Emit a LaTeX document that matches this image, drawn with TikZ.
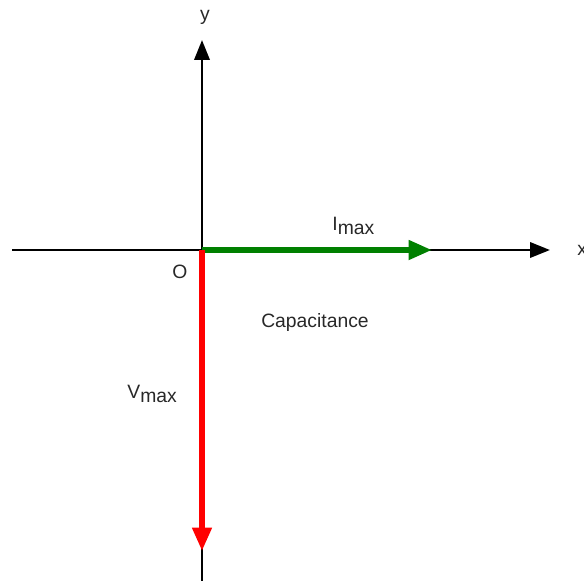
\documentclass[tikz,border=0pt]{standalone}
\usepackage{fontspec}
\setmainfont{Liberation Sans}
\usetikzlibrary{arrows.meta, positioning}
\definecolor{phasorgreen}{RGB}{0, 128, 0}
\definecolor{phasorred}{RGB}{255, 0, 0}
\definecolor{labelgray}{RGB}{40, 40, 40}

\begin{document}
\begin{tikzpicture}[x=0.03cm, y=-0.03cm, thick,
    axis/.style={line width=2.3pt, -{Triangle[length=17pt, width=13pt]}},
    phasor/.style={line width=4.6pt, -{Triangle[length=20pt, width=16pt]}},
    lbl/.style={text=labelgray, font=\fontsize{16.5}{18}\selectfont, inner sep=0pt}]
    \useasboundingbox (0,0) rectangle (584,580);

    % Points
    \coordinate (O) at (202,250);
    \coordinate (xstart) at (12,250);
    \coordinate (xtip) at (550,250);
    \coordinate (ystart) at (202,582);
    \coordinate (ytip) at (202,40);
    \coordinate (Itip) at (432,250);
    \coordinate (Vtip) at (202,551);

    % Axes
    \draw[axis] (xstart) -- (xtip);
    \draw[axis] (ystart) -- (ytip);
    \node[lbl, anchor=west] (xlabel) at (577,250) {x};
    \node[lbl] (ylabel) at (205,17) {y};
    \node[lbl] (origin) at (180,272) {O};

    % Phasors
    \draw[phasor, phasorgreen] (O) -- (Itip);
    \draw[phasor, phasorred] (O) -- (Vtip);

    % Labels
    \node[lbl, anchor=base west] (Imax) at (332,230) {I\raisebox{-0.45ex}{max}};
    \node[lbl, anchor=base west] (Vmax) at (127,398) {V\raisebox{-0.45ex}{max}};
    \node[lbl] (cap) at (315,322) {Capacitance};

\end{tikzpicture}
\end{document}
